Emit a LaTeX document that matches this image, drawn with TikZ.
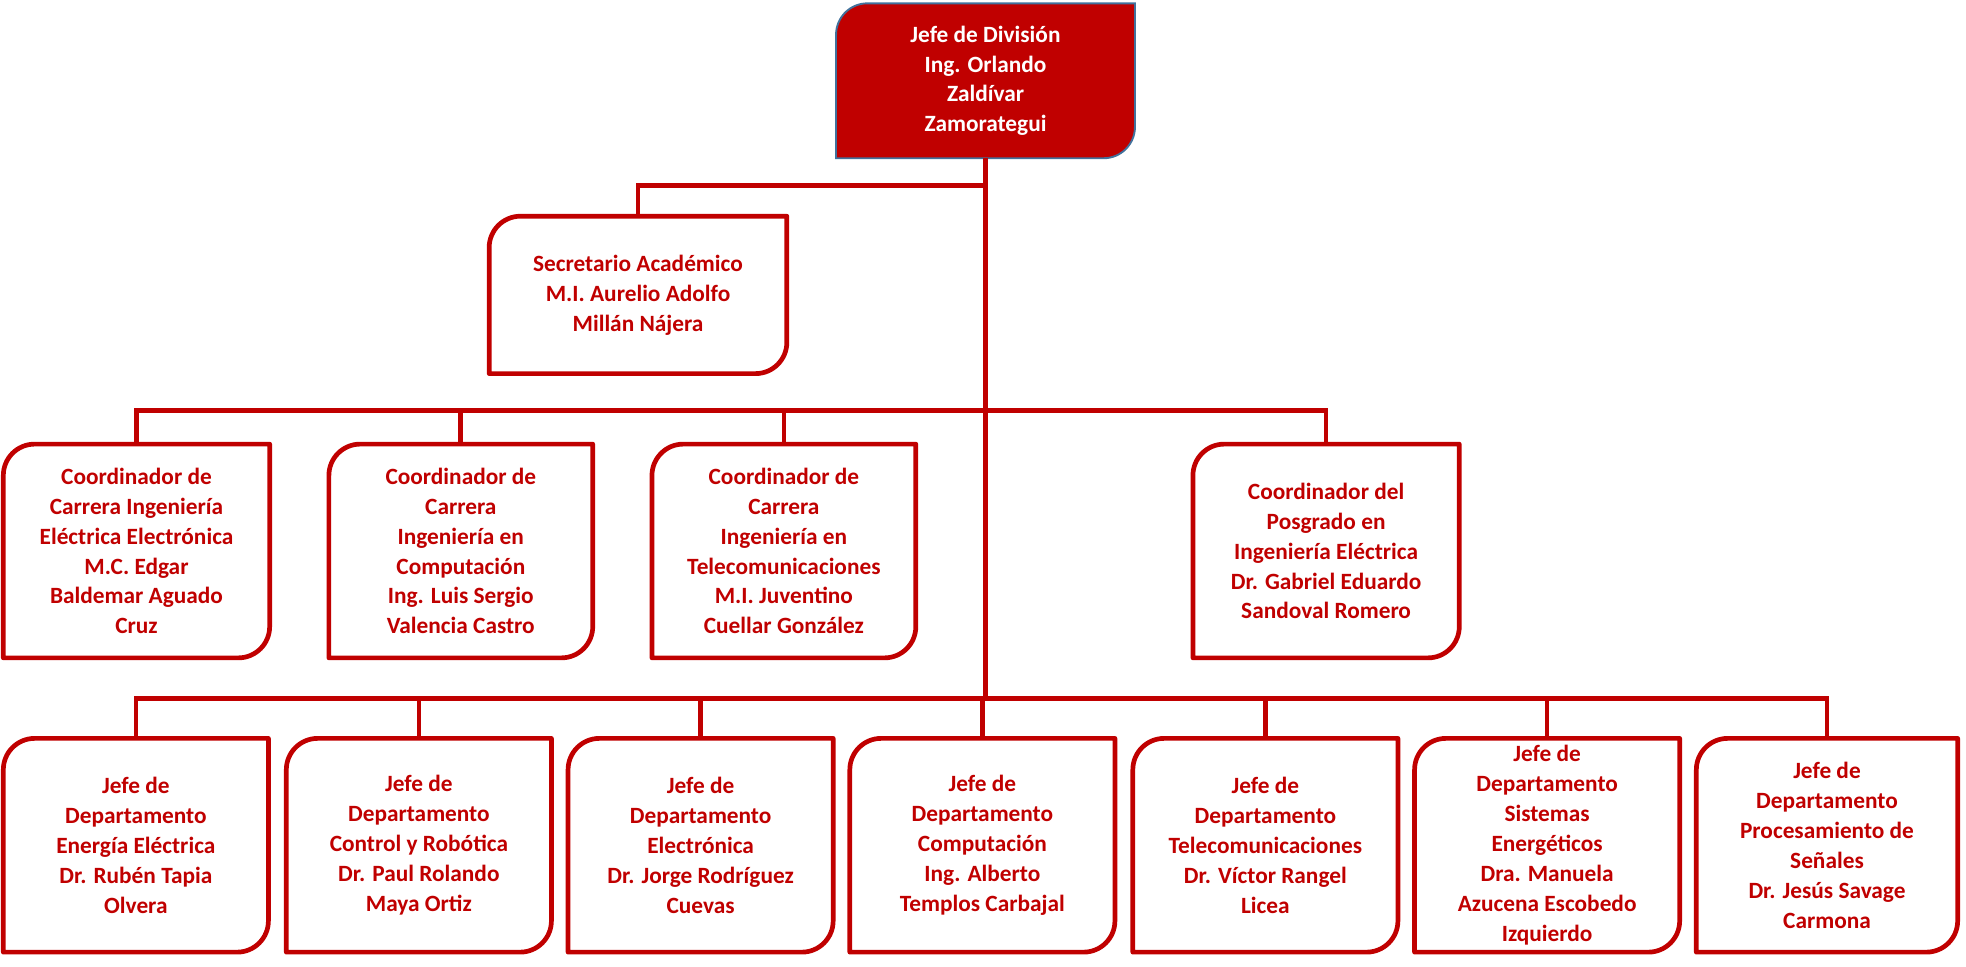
\documentclass[tikz,border=0pt]{standalone}
\usepackage{fontspec}
\setmainfont{Carlito}
\definecolor{dred}{HTML}{C00000}
\definecolor{bblue}{HTML}{41719C}
\tikzset{
  ln/.style={draw=dred,line width=0.075cm},
  bx/.style={align=center,text=dred,font=\bfseries\fontsize{10.6}{13.6}\selectfont,inner sep=0pt},
}
\newcommand\ob[6]{%
  \node[bx,minimum width=#4*0.02cm,minimum height=#5*0.02cm] (#1) at (#2,#3) {#6};
  \draw[ln,line join=round] (#1.south west) [rounded corners=0.5cm] -- (#1.north west) [sharp corners] -- (#1.north east) [rounded corners=0.5cm] -- (#1.south east) [sharp corners] -- cycle;}
\begin{document}
\begin{tikzpicture}[x=0.02cm,y=-0.02cm]
\useasboundingbox (0,0) rectangle (1570,772);
% top
\node[bx,text=white,minimum width=238*0.02cm,minimum height=123*0.02cm] (top) at (787,64.5) {Jefe de División\\Ing. Orlando\\Zaldívar\\Zamorategui};
\fill[dred,draw=bblue,line width=0.03cm] (top.south west) [rounded corners=0.5cm] -- (top.north west) [sharp corners] -- (top.north east) [rounded corners=0.5cm] -- (top.south east) [sharp corners] -- cycle;
\node[bx,text=white] at (top) {Jefe de División\\Ing. Orlando\\Zaldívar\\Zamorategui};
\ob{sec}{509.5}{235.5}{237}{125}{Secretario Académico\\M.I. Aurelio Adolfo\\Millán Nájera}
\ob{c1}{109}{440}{212}{170}{Coordinador de\\Carrera Ingeniería\\Eléctrica Electrónica\\M.C. Edgar\\Baldemar Aguado\\Cruz}
\ob{c2}{368}{440}{210}{170}{Coordinador de\\Carrera\\Ingeniería en\\Computación\\Ing. Luis Sergio\\Valencia Castro}
\ob{c3}{626}{440}{210}{170}{Coordinador de\\Carrera\\Ingeniería en\\Telecomunicaciones\\M.I. Juventino\\Cuellar González}
\ob{c4}{1059}{440}{212}{170}{Coordinador del\\Posgrado en\\Ingeniería Eléctrica\\Dr. Gabriel Eduardo\\Sandoval Romero}
\ob{d1}{108.5}{675}{211}{170}{Jefe de\\Departamento\\Energía Eléctrica\\Dr. Rubén Tapia\\Olvera}
\ob{d2}{334.5}{675}{211}{170}{Jefe de\\Departamento\\Control y Robótica\\Dr. Paul Rolando\\Maya Ortiz}
\ob{d3}{559.5}{675}{211}{170}{Jefe de\\Departamento\\Electrónica\\Dr. Jorge Rodríguez\\Cuevas}
\ob{d4}{784.5}{675}{211}{170}{Jefe de\\Departamento\\Computación\\Ing. Alberto\\Templos Carbajal}
\ob{d5}{1010.5}{675}{211}{170}{Jefe de\\Departamento\\Telecomunicaciones\\Dr. Víctor Rangel\\Licea}
\ob{d6}{1235.5}{675}{211}{170}{Jefe de\\Departamento\\Sistemas\\Energéticos\\Dra. Manuela\\Azucena Escobedo\\Izquierdo}
\ob{d7}{1459}{675}{208}{170}{Jefe de\\Departamento\\Procesamiento de\\Señales\\Dr. Jesús Savage\\Carmona}
% connectors
\coordinate (b1) at (787,148);
\coordinate (b2) at (787,558);
\draw[ln] (top.south) -- (b2);
\draw[ln] (b1) -| (sec.north);
\draw[ln] (c1.north) |- (c4.north |- 0,328) -- (c4.north);
\draw[ln] (c2.north) -- (c2.north |- 0,328);
\draw[ln] (c3.north) -- (c3.north |- 0,328);
\draw[ln] (d1.north) |- (d7.north |- 0,558) -- (d7.north);
\foreach \n in {d2,d3,d4,d5,d6} \draw[ln] (\n.north) -- (\n.north |- 0,558);
\end{tikzpicture}
\end{document}
